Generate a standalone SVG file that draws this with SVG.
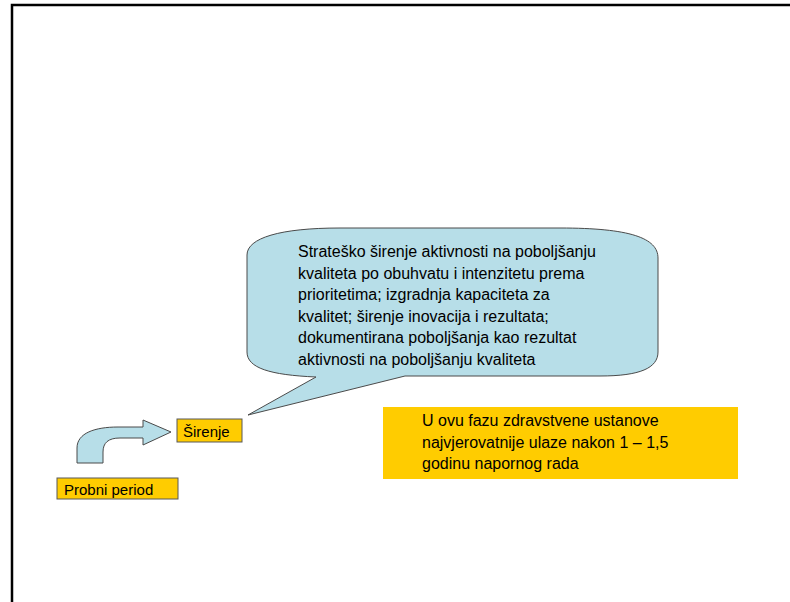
<svg xmlns="http://www.w3.org/2000/svg" width="790" height="602" viewBox="0 0 790 602">
<style>
.t{font-family:"Liberation Sans",Arial,sans-serif;fill:#000}
.box{fill:#FFCC00;stroke:#595959;stroke-width:1}
.blue{fill:#B7DEE8;stroke:#4a4a4a;stroke-width:1}
</style>
<rect width="790" height="602" fill="#fff"/>
<path d="M12 602 V5 H790" fill="none" stroke="#000" stroke-width="2.5"/>
<g id="connectors">
<path class="blue" d="M77 463 V448 C77 433 95 427 118 427 H143 V420 L171 432 L143 445 V438 H120 C108 438 103 443 103 452 V463 Z"/>
</g>
<g id="callout">
<path class="blue" d="M247 255 C247 238 280 228 340 228 H560 C630 228 658 238 658 258 V352 C658 368 640 376 600 376 H405 L248 415 L316 377 C270 375 247 368 247 352 Z"/>
<g class="t" font-size="16">
<text x="298" y="257">Strateško širenje aktivnosti na poboljšanju</text>
<text x="298" y="278.5">kvaliteta po obuhvatu i intenzitetu prema</text>
<text x="298" y="300">prioritetima; izgradnja kapaciteta za</text>
<text x="298" y="321.5">kvalitet; širenje inovacija i rezultata;</text>
<text x="298" y="343">dokumentirana poboljšanja kao rezultat</text>
<text x="298" y="364.5">aktivnosti na poboljšanju kvaliteta</text>
</g>
</g>
<g id="note">
<rect x="383" y="407" width="355" height="72" fill="#FFCC00"/>
<g class="t" font-size="16">
<text x="422" y="426">U ovu fazu zdravstvene ustanove</text>
<text x="422" y="447.5">najvjerovatnije ulaze nakon 1 – 1,5</text>
<text x="422" y="469">godinu napornog rada</text>
</g>
</g>
<g id="sirenje">
<rect class="box" x="177" y="419" width="65" height="23"/>
<text class="t" x="183" y="436.5" font-size="15">Širenje</text>
</g>
<g id="probni">
<rect class="box" x="57" y="478" width="121" height="21"/>
<text class="t" x="64" y="494.5" font-size="15">Probni period</text>
</g>
</svg>
